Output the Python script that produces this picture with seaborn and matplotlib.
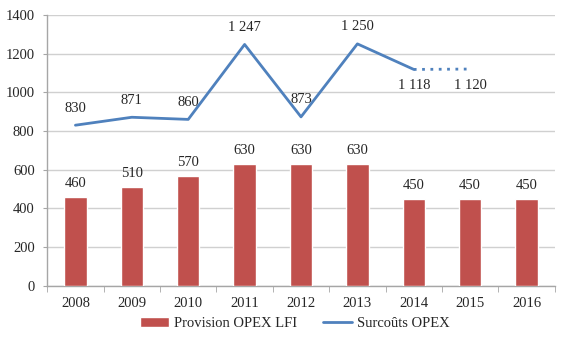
import numpy as np
import pandas as pd
import matplotlib
matplotlib.use("Agg")
import matplotlib.pyplot as plt
import seaborn as sns
from matplotlib.lines import Line2D
from matplotlib.patches import Patch

years = ["2008", "2009", "2010", "2011", "2012", "2013", "2014", "2015", "2016"]
provision = [460, 510, 570, 630, 630, 630, 450, 450, 450]
surcouts = [830, 871, 860, 1247, 873, 1250, 1118]
surcouts_forecast = [1118, 1120]  # 2014 -> 2015, dotted
surcouts_labels = ["830", "871", "860", "1 247", "873", "1 250", "1 118", "1 120"]

RED = "#C0504D"
BLUE = "#4F81BD"

sns.set_style("white")
plt.rcParams["font.family"] = ["Liberation Serif", "DejaVu Serif"]
plt.rcParams["font.size"] = 10.5

fig = plt.figure(figsize=(5.69, 3.53), dpi=100)
ax = fig.add_axes([0.083, 0.19, 0.892, 0.768])

df = pd.DataFrame({"year": years, "provision": provision})
sns.barplot(data=df, x="year", y="provision", color=RED, width=0.4,
            saturation=1, ax=ax, zorder=3)

xs = np.arange(len(surcouts))
sns.lineplot(x=xs, y=surcouts, color=BLUE, lw=2, ax=ax, zorder=4)
xf = np.arange(len(surcouts) - 1, len(surcouts) - 1 + len(surcouts_forecast))
ax.plot(xf, surcouts_forecast, color=BLUE, lw=2, ls=(0, (1, 2)), zorder=4)

# bar labels
for i, v in enumerate(provision):
    ax.text(i, v + 35, str(v), ha="center", va="bottom")

# line labels
all_x = list(xs) + [xf[-1]]
all_y = surcouts + [surcouts_forecast[-1]]
for i, (x, y, lab) in enumerate(zip(all_x, all_y, surcouts_labels)):
    if i >= len(surcouts) - 1:
        ax.text(x, y - 50, lab, ha="center", va="top")
    else:
        ax.text(x, y + 55, lab, ha="center", va="bottom")

ax.set_ylim(0, 1400)
ax.set_yticks(range(0, 1401, 200))
ax.set_xlim(-0.5, len(years) - 0.5)
ax.set_xlabel("")
ax.set_ylabel("")
ax.yaxis.grid(True, color="#D0D0D0", lw=1, zorder=0)
ax.set_axisbelow(True)
for s in ["top", "right"]:
    ax.spines[s].set_visible(False)
for s in ["left", "bottom"]:
    ax.spines[s].set_color("#A6A6A6")
    ax.spines[s].set_linewidth(1)
ax.tick_params(axis="y", length=3, color="#A6A6A6", pad=6, left=True)
ax.tick_params(axis="x", length=0, pad=8)
# small ticks between categories on the x axis
ax.set_xticks(np.arange(-0.5, len(years), 1), minor=True)
ax.tick_params(axis="x", which="minor", length=4, color="#A6A6A6", bottom=True)

handles = [Patch(facecolor=RED, label="Provision OPEX LFI"),
           Line2D([0], [0], color=BLUE, lw=2, label="Surcoûts OPEX")]
fig.legend(handles=handles, loc="center", bbox_to_anchor=(0.518, 0.083), ncol=2,
           frameon=False, handlelength=2.0, handleheight=0.6, columnspacing=1.8,
           handletextpad=0.3)

fig.savefig("out.png", dpi=100)
